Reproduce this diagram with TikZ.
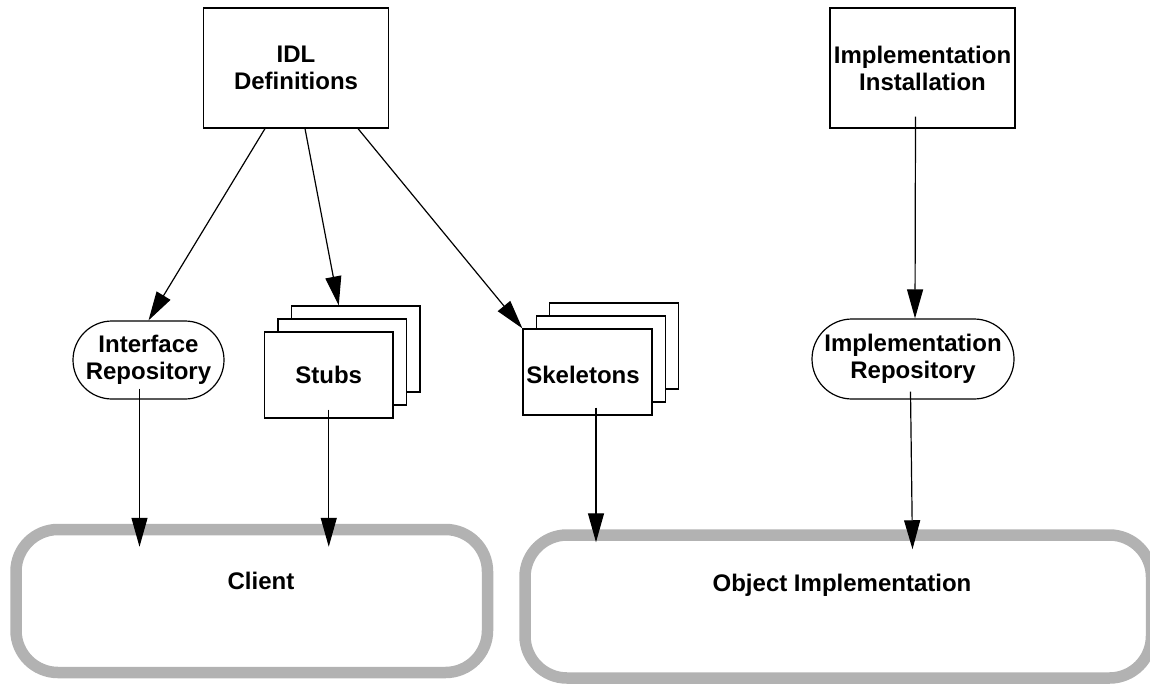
\documentclass[tikz,border=0pt]{standalone}
\usepackage{fontspec}
\setmainfont{Liberation Sans}
\usetikzlibrary{arrows.meta,calc}
\tikzset{
  lbl/.style={font=\fontsize{24}{27}\selectfont\bfseries, align=center},
  boxnode/.style={draw=black, line width=1.2pt, fill=white, inner sep=0pt},
  stadium/.style={boxnode},
  frame/.style={draw=black!30, line width=11.5pt, rounded corners=42pt, inner sep=0pt},
  arr/.style={draw=black, line width=1.2pt, -{Triangle[length=29pt,width=16pt]}}
}
\begin{document}
\begin{tikzpicture}[x=1pt,y=-1pt]
\useasboundingbox (0,0) rectangle (1150,683);
% big frames
\node[frame, minimum width=471.5pt, minimum height=143pt] (client) at (251.75,601) {};
\node[lbl] (clientlbl) at (261,581) {Client};
\node[frame, minimum width=626.5pt, minimum height=143pt] (obj) at (838.25,606.5) {};
\node[lbl] (objlbl) at (842,585) {Object Implementation};
% top boxes
\node[boxnode, lbl, minimum width=185pt, minimum height=120pt] (idl) at (296,68) {IDL\\Definitions};
\node[boxnode, lbl, minimum width=185pt, minimum height=120pt] (inst) at (922.5,68) {Implementation\\Installation};
% repositories
\node[stadium, lbl, rounded corners=39pt, minimum width=151pt, minimum height=78pt] (ifr) at (148.5,360) {Interface\\Repository};
\node[stadium, lbl, rounded corners=40pt, minimum width=202pt, minimum height=80pt] (irep) at (913,359) {Implementation\\Repository};
% stubs stack
\node[boxnode, minimum width=128.5pt, minimum height=86pt] (stubs3) at (355.75,349) {};
\node[boxnode, minimum width=128.5pt, minimum height=86pt] (stubs2) at (342.25,362) {};
\node[boxnode, lbl, minimum width=128.5pt, minimum height=86pt] (stubs) at (328.75,375) {Stubs};
% skeletons stack
\node[boxnode, minimum width=129pt, minimum height=86pt] (skel3) at (614,346) {};
\node[boxnode, minimum width=129pt, minimum height=86pt] (skel2) at (600.75,359) {};
\node[boxnode, minimum width=129pt, minimum height=86pt] (skel) at (587.5,372) {};
\node[lbl] (skellbl) at (583,375) {Skeletons};
% arrows
\draw[arr] ([xshift=-31pt]idl.south) -- (ifr.north);
\draw[arr] ([xshift=9pt]idl.south) -- ([xshift=-17pt]stubs3.north);
\draw[arr] ([xshift=62pt]idl.south) -- (skel.north west);
\draw[arr] ([xshift=-7pt,yshift=12pt]inst.south) -- ([xshift=2pt]irep.north);
\draw[arr] ([xshift=-9pt,yshift=11pt]ifr.south) -- ($(ifr.south |- client.north)+(-9,23)$);
\draw[arr] ([yshift=9pt]stubs.south) -- ($(stubs.south |- client.north)+(0,23)$);
\draw[arr] ([xshift=8.5pt,yshift=8pt]skel.south) -- ($(skel.south |- obj.north)+(8.5,13)$);
\draw[arr] ([xshift=-2.5pt,yshift=8pt]irep.south) -- ($(irep.south |- obj.north)+(-0.5,20)$);
\end{tikzpicture}
\end{document}
